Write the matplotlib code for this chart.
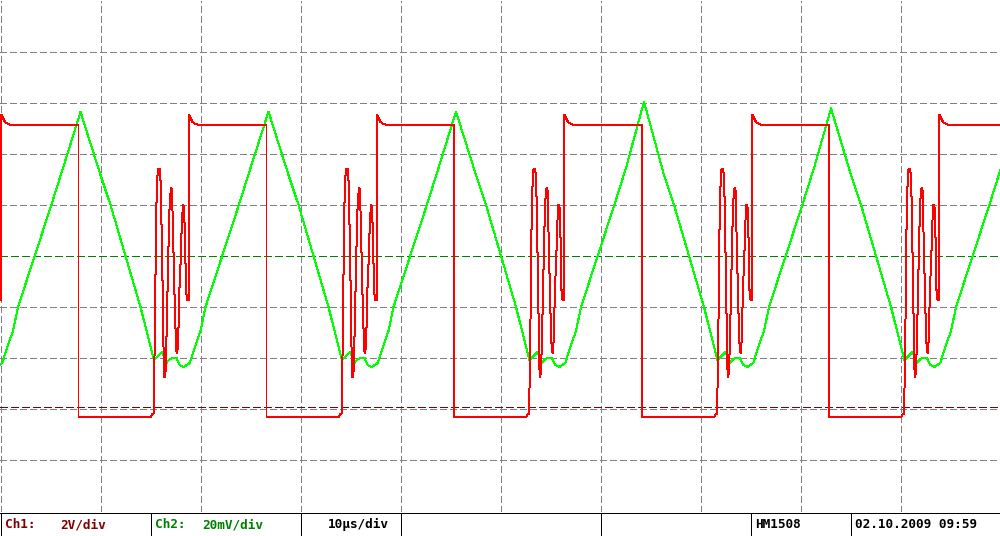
import matplotlib
matplotlib.use("Agg")
import matplotlib.pyplot as plt

# screen: 10 div x 10 div, 10 us/div, Ch1 2 V/div, Ch2 20 mV/div
US_PER_DIV = 10.0
CH1_V_PER_DIV = 2.0
CH2_MV_PER_DIV = 20.0
CH1_ZERO_DIV = -2.95    # dark red ground marker
CH2_ZERO_DIV = 0.0      # green ground marker (screen centre)

# Ch1 falling edges (us) and Ch2 triangle peaks (mV), one per cycle
cycle_starts = [-10.95, 7.8, 26.6, 45.35, 64.15, 82.85]
ch2_peaks = [56.4, 56.4, 56.5, 56.5, 60.4, 57.8]

# Ch1 shape of one cycle, time after the falling edge (us) / volts
ch1_dt = [0.0, 0.0, 7.20, 7.40, 7.50, 7.55, 7.63, 7.70, 7.77, 7.87, 7.95,
          8.13, 8.23, 8.30, 8.40, 8.47, 8.53, 8.60, 8.70, 8.80, 8.93, 9.03,
          9.13, 9.25, 9.35, 9.43, 9.53, 9.63, 9.77, 9.87, 9.97, 10.10, 10.23,
          10.33, 10.45, 10.55, 10.65, 10.75, 10.85, 11.03, 11.05, 11.20,
          11.40, 11.70, 12.00]
ch1_volts = [11.03, -0.40, -0.40, -0.28, -0.28, 0.73, 2.73, 5.35, 7.62, 8.87,
             9.30, 9.30, 8.68, 7.11, 4.96, 3.00, 1.56, 1.16, 1.36, 2.73, 5.04,
             6.80, 8.09, 8.56, 8.48, 7.19, 5.66, 3.90, 2.22, 2.10, 2.61, 4.65,
             5.86, 7.19, 7.90, 7.82, 6.64, 4.57, 4.18, 4.18, 11.42, 11.30,
             11.14, 11.07, 11.03]

# Ch2 shape of one cycle after its peak, time after Ch1 edge (us) / mV
ch2_peak_dt = 0.2
ch2_dt = [2.2, 3.2, 4.7, 5.2, 6.2, 7.53, 8.37, 8.8, 9.03, 9.37, 9.8, 10.13,
          10.53, 11.13, 11.37, 11.87, 12.2, 12.7, 14.37, 16.03, 17.2]
ch2_mv = [31.7, 20.0, 0.0, -6.65, -19.96, -40.7, -37.57, -41.88, -40.7,
          -39.92, -39.92, -42.66, -43.44, -41.88, -38.75, -32.88, -29.35,
          -19.96, 0.0, 19.96, 34.44]

status_fields = [
    ("Ch1:", "#800000"), ("2V/div", "#800000"),
    ("Ch2:", "#008000"), ("20mV/div", "#008000"),
    ("10\u00b5s/div", "black"), ("HM1508", "black"),
    ("02.10.2009 09:59", "black"),
]

# build the traces
t1, y1 = [], []
for t0 in cycle_starts:
    t1 += [t0 + d for d in ch1_dt]
    y1 += [v / CH1_V_PER_DIV + CH1_ZERO_DIV for v in ch1_volts]
t1.append(105.0)
y1.append(ch1_volts[-1] / CH1_V_PER_DIV + CH1_ZERO_DIV)

t2, y2 = [], []
for t0, pk in zip(cycle_starts, ch2_peaks):
    t2 += [t0 + ch2_peak_dt] + [t0 + d for d in ch2_dt]
    y2 += [v / CH2_MV_PER_DIV + CH2_ZERO_DIV for v in [pk] + ch2_mv]

PX = 0.72  # one pixel in points at 100 dpi
W, H = 1000, 536
plot_h = 511.0

fig = plt.figure(figsize=(W / 100, H / 100), dpi=100, facecolor="white")
ax = fig.add_axes([0, (H - 511.5) / H, 1, plot_h / H])
ax.set_xlim(-0.05, 10 * US_PER_DIV - 0.05)
ax.set_ylim(-5, 5)
ax.axis("off")

grid_color = "#808080"
for k in range(10):
    ax.axvline(k * US_PER_DIV, color=grid_color, lw=PX, ls=(0, (6, 4)),
               antialiased=False)
for k in range(-4, 5):
    if k != 0:
        ax.axhline(k, color=grid_color, lw=PX, ls=(0, (6, 4)),
                   antialiased=False)
ax.axhline(CH2_ZERO_DIV, color="#008000", lw=PX, ls=(0, (7, 3)),
           antialiased=False)
ax.axhline(CH1_ZERO_DIV, color="#800000", lw=PX, ls=(0, (7, 3)),
           antialiased=False)

ax.plot(t2, y2, color="#00ff00", lw=PX, antialiased=False)
ax.plot(t1, y1, color="#ff0000", lw=PX, antialiased=False)

# status bar
bar = fig.add_axes([0, 0, 1, 1], facecolor="none")
bar.set_xlim(0, W)
bar.set_ylim(H, 0)
bar.axis("off")
bar.hlines([512.5, 535.5], 0, W, color="black", lw=PX, antialiased=False)
bar.vlines([0.5, 150.5, 300.5, 400.5, 600.5, 750.5, 850.5, 999.5], 512.5, 535.5,
           color="black", lw=PX, antialiased=False)
text_x = [5, 60, 155, 202, 328, 755, 855]
for (label, col), x in zip(status_fields, text_x):
    bar.text(x, 524.5, label, color=col, fontsize=9.2, fontweight="bold",
             family="DejaVu Sans Mono", va="center", ha="left")

fig.savefig("out.png", dpi=100, facecolor="white")
